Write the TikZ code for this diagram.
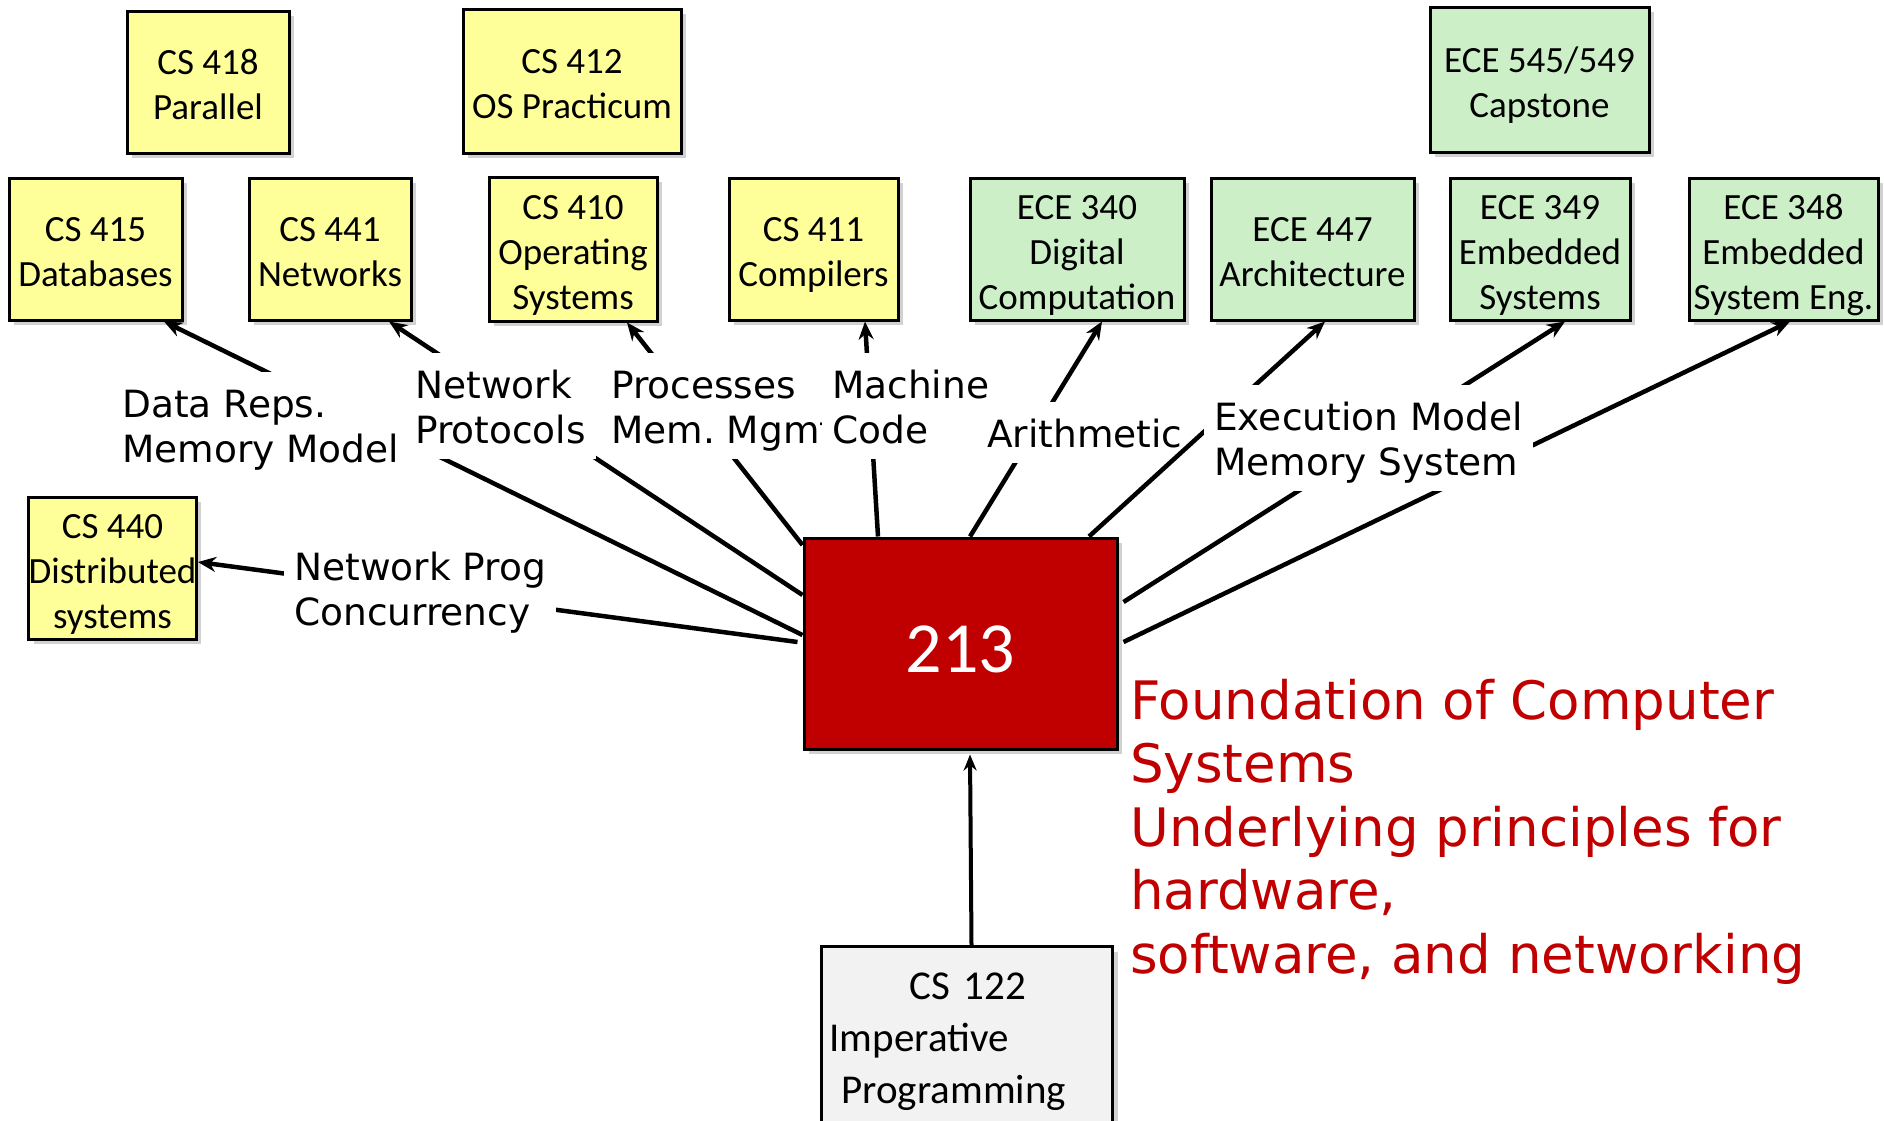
\documentclass[tikz,border=0pt]{standalone}
\usepackage{fontspec}
\usetikzlibrary{arrows.meta,shadows}
\newfontfamily\boxfont{Carlito}
\newfontfamily\lblfont{DejaVu Sans}
% struts that give every topic label the same padding above and below
\newcommand\lhi{\rule{0pt}{45pt}}
\newcommand\llo{\rule[-16pt]{0pt}{16pt}}
% struts that fix where the lines of a course box sit
\newcommand\bxhi{\rule{0pt}{40pt}}
\newcommand\bxlo{\rule[-10pt]{0pt}{10pt}}
\definecolor{boxyellow}{HTML}{FFFF99}
\definecolor{boxgreen}{HTML}{CCEFC8}
\definecolor{coreRed}{HTML}{C00000}
\definecolor{boxgrey}{HTML}{F2F2F2}
\tikzset{
  boxbase/.style={draw=black, line width=3pt, inner sep=0pt,
    drop shadow={shadow xshift=5pt, shadow yshift=-5pt, fill=black!18, opacity=1}},
  course/.style={boxbase, align=center, font=\boxfont\fontsize{37pt}{45pt}\selectfont},
  csbox/.style={course, fill=boxyellow},
  ecebox/.style={course, fill=boxgreen},
  topic/.style={fill=white, inner xsep=10pt, inner ysep=0pt, align=left, anchor=west,
    font=\lblfont\fontsize{37.5pt}{45pt}\selectfont},
  link/.style={line width=4.5pt, -{Stealth[length=18pt,width=15pt]}},
}
\begin{document}
\begin{tikzpicture}[x=1pt,y=-1pt]
\useasboundingbox (0,0) rectangle (1884,1120);

% course boxes
\node[csbox, minimum width=162pt, minimum height=142pt] (cs418) at (208,82) {\bxhi CS 418\\Parallel\bxlo};
\node[csbox, minimum width=218pt, minimum height=144pt] (cs412) at (572,81) {\bxhi CS 412\\OS Practicum\bxlo};
\node[ecebox, minimum width=219pt, minimum height=145pt] (ece545) at (1539.5,79.5) {\bxhi ECE 545/549\\Capstone\bxlo};

\node[csbox, minimum width=173pt, minimum height=142pt] (cs415) at (95.5,249) {\bxhi CS 415\\Databases\bxlo};
\node[csbox, minimum width=162pt, minimum height=142pt] (cs441) at (330,249) {\bxhi CS 441\\Networks\bxlo};
\node[csbox, minimum width=168pt, minimum height=144pt] (cs410) at (573,249) {\bxhi CS 410\\Operating\\Systems\bxlo};
\node[csbox, minimum width=169pt, minimum height=142pt] (cs411) at (813.5,249) {\bxhi CS 411\\Compilers\bxlo};
\node[ecebox, minimum width=214pt, minimum height=142pt] (ece340) at (1077,249) {\bxhi ECE 340\\Digital\\Computation\bxlo};
\node[ecebox, minimum width=203pt, minimum height=142pt] (ece447) at (1312.5,249) {\bxhi ECE 447\\Architecture\bxlo};
\node[ecebox, minimum width=180pt, minimum height=142pt] (ece349) at (1540,249) {\bxhi ECE 349\\Embedded\\Systems\bxlo};
\node[ecebox, minimum width=189pt, minimum height=142pt] (ece348) at (1783.5,249) {\bxhi ECE 348\\Embedded\\System Eng.\bxlo};

\node[csbox, minimum width=161pt, minimum height=142pt] (cs440) at (112.5,568) {\bxhi CS 440\\Distributed\\systems\bxlo};

% the core course
\node[boxbase, fill=coreRed, text=white, minimum width=313pt, minimum height=211pt,
  font=\boxfont\fontsize{72pt}{86pt}\selectfont, text height=58pt] (m) at (960.5,643.5) {213};

% prerequisite box, running off the bottom edge
\node[boxbase, fill=boxgrey, anchor=north west, align=left, text width=275pt,
  inner xsep=8pt, inner ysep=0pt, font=\boxfont\fontsize{41pt}{52pt}\selectfont]
  (cs122) at (820,945)
  {\rule{0pt}{53pt}\hspace*{80pt}CS 122\\Imperative\\\hspace*{12pt}Programming\rule[-150pt]{0pt}{150pt}};

% summary text
\node[anchor=north west, inner sep=0pt, align=left, text=coreRed,
  font=\lblfont\fontsize{53pt}{63.5pt}\selectfont] (blurb) at (1130,669)
  {\rule{0pt}{50pt}Foundation of Computer\\Systems\\Underlying principles for\\hardware,\\software, and networking};

% connectors out of 213
\draw[link] ([yshift=8.5pt]m.west) -- ([xshift=68.5pt]cs415.south);
\draw[link] ([yshift=48.5pt]m.west) -- ([xshift=59pt]cs441.south);
\draw[link] ([yshift=98.5pt]m.west) -- ([xshift=54pt]cs410.south);
\draw[link] ([xshift=-82.5pt]m.north) -- ([xshift=51.5pt]cs411.south);
\draw[link] ([xshift=9.5pt]m.north) -- ([xshift=25pt]ece340.south);
\draw[link] ([xshift=5pt,yshift=41.5pt]m.east) -- ([xshift=25pt]ece349.south);
\draw[link] ([xshift=5pt,yshift=1.5pt]m.east) -- ([xshift=6.5pt]ece348.south);
\draw[link] ([xshift=-5pt,yshift=1.5pt]m.west) -- ([yshift=6pt]cs440.east);
\draw[line width=4pt, -{Stealth[length=16pt,width=13pt]}]
  ([xshift=4.5pt]cs122.north) -- ([xshift=9.5pt,yshift=-4pt]m.south);

% topic labels, masking the connectors they sit on
\node[topic] (tdata) at (112,425) {\lhi Data Reps.\\Memory Model\llo};
\node[topic] (tnet) at (405,406) {\lhi Network\\Protocols\llo};
\node[topic] (tproc) at (601,406) {\lhi Processes\\Mem.\ Mgmt\llo};
\node[topic] (tmach) at (822,406) {\lhi Machine\\Code\llo};
\node[topic] (tarith) at (977,432.5) {\lhi Arithmetic\llo};
\draw[link] ([xshift=128.5pt]m.north) -- ([xshift=12.5pt]ece447.south);
\node[topic] (texec) at (1204,438) {\lhi Execution Model\\Memory System\llo};
\node[topic] (tprog) at (284,588) {\lhi Network Prog\\Concurrency\llo};
\end{tikzpicture}
\end{document}
